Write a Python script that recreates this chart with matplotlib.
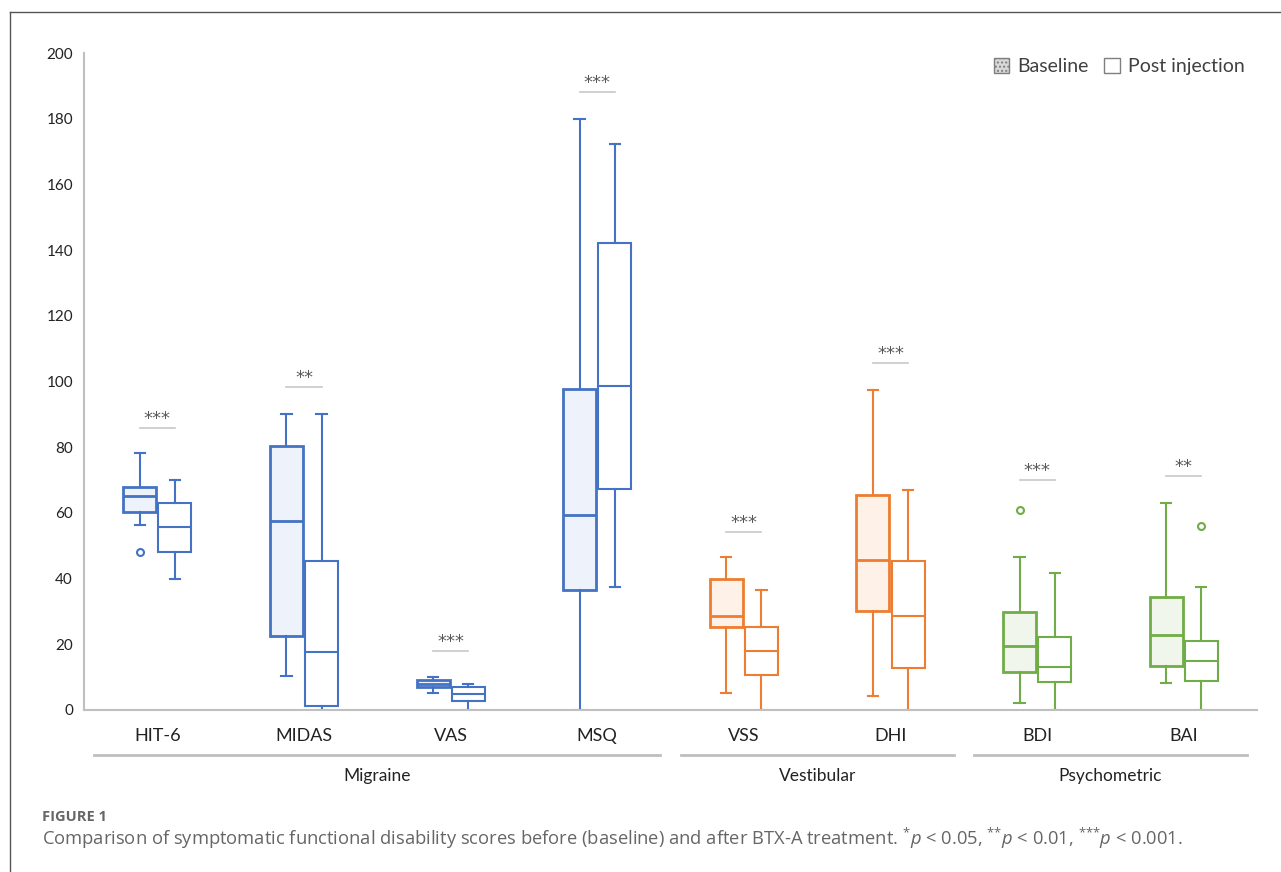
import matplotlib
matplotlib.use("Agg")
import matplotlib.pyplot as plt
from matplotlib.patches import Rectangle, Patch
from matplotlib.lines import Line2D

plt.rcParams["font.family"] = ["Lato", "DejaVu Sans"]
plt.rcParams["mathtext.fontset"] = "custom"
plt.rcParams["mathtext.rm"] = "Open Sans"
plt.rcParams["mathtext.it"] = "Open Sans:italic"

categories = ["HIT-6", "MIDAS", "VAS", "MSQ", "VSS", "DHI", "BDI", "BAI"]
groups = ["Migraine", "Migraine", "Migraine", "Migraine",
          "Vestibular", "Vestibular", "Psychometric", "Psychometric"]

# baseline box stats
base_lo = [56.2, 10.3, 5.1, 0.0, 5.3, 4.3, 2.0, 8.2]
base_q1 = [60.4, 22.6, 6.9, 36.5, 25.4, 30.1, 11.5, 13.4]
base_med = [65.0, 57.5, 7.8, 59.5, 28.5, 45.8, 19.4, 22.9]
base_q3 = [68.0, 80.3, 9.0, 97.7, 40.0, 65.5, 29.8, 34.4]
base_hi = [78.3, 90.2, 10.1, 180.0, 46.7, 97.4, 46.7, 62.9]
base_out = [[48.1], [], [], [], [], [], [60.9], []]

# post injection box stats
post_lo = [40.0, 0.0, 0.0, 37.4, 0.0, 0.0, 0.0, 0.0]
post_q1 = [48.2, 1.1, 2.6, 67.3, 10.5, 12.7, 8.5, 8.7]
post_med = [55.7, 17.7, 4.8, 98.7, 18.0, 28.6, 13.2, 14.8]
post_q3 = [63.1, 45.3, 6.9, 142.2, 25.2, 45.3, 22.1, 20.9]
post_hi = [70.1, 90.2, 7.9, 172.4, 36.5, 67.1, 41.8, 37.5]
post_out = [[], [], [], [], [], [], [], [55.9]]

sig_labels = ["***", "**", "***", "***", "***", "***", "***", "**"]
sig_y = [85.9, 98.2, 18.0, 188.0, 54.2, 105.5, 69.9, 71.1]

group_color = {"Migraine": "#4472C4", "Vestibular": "#ED7D31", "Psychometric": "#70AD47"}
group_tint = {"Migraine": "#eef2fa", "Vestibular": "#fdf1e8", "Psychometric": "#f0f6ec"}
group_dot = {"Migraine": "#c9d5ee", "Vestibular": "#f8d6bf", "Psychometric": "#d4e6c8"}

fig = plt.figure(figsize=(12.81, 8.72), dpi=100)
ax = fig.add_axes([0.0656, 0.1858, 0.9157, 0.7534])

off = 0.12
bw = 0.225
for i, cat in enumerate(categories):
    g = groups[i]
    c = group_color[g]
    stats = [
        dict(med=base_med[i], q1=base_q1[i], q3=base_q3[i], whislo=base_lo[i],
             whishi=base_hi[i], fliers=base_out[i]),
        dict(med=post_med[i], q1=post_q1[i], q3=post_q3[i], whislo=post_lo[i],
             whishi=post_hi[i], fliers=post_out[i]),
    ]
    for k, (st, dx) in enumerate(zip(stats, (-off, off))):
        lw = 2.0 if k == 0 else 1.5
        res = ax.bxp([st], positions=[i + dx], widths=bw, patch_artist=True,
                     capwidths=0.07,
                     boxprops=dict(facecolor=group_tint[g] if k == 0 else "white",
                                   edgecolor=c, linewidth=lw),
                     medianprops=dict(color=c, linewidth=lw),
                     whiskerprops=dict(color=c, linewidth=1.5),
                     capprops=dict(color=c, linewidth=1.5),
                     flierprops=dict(marker="o", markersize=5, markerfacecolor="white",
                                     markeredgecolor=c, markeredgewidth=1.5))
        if k == 0:
            ext = res["boxes"][0].get_path().get_extents()
            ax.add_patch(Rectangle((ext.x0, ext.y0), ext.width, ext.height,
                                   facecolor="none", edgecolor=group_dot[g],
                                   linewidth=0, hatch="....", zorder=1.5))
    # significance bar
    ax.plot([i - 0.12, i + 0.12], [sig_y[i], sig_y[i]], color="#c8c8c8", lw=1.2)
    ax.text(i, sig_y[i] + 1.2, sig_labels[i], ha="center", va="baseline",
            fontsize=13, color="#595959", family="DejaVu Sans")

ax.set_xlim(-0.5, 7.5)
ax.set_ylim(0, 200)
ax.set_yticks(range(0, 201, 20))
ax.set_xticks(range(len(categories)))
ax.set_xticklabels(categories, fontsize=13, color="#222222")
ax.tick_params(axis="both", length=0)
ax.tick_params(axis="y", pad=8, labelsize=11, labelcolor="#222222")
ax.tick_params(axis="x", pad=13)
for s in ["top", "right"]:
    ax.spines[s].set_visible(False)
for s in ["left", "bottom"]:
    ax.spines[s].set_color("#bfbfbf")
    ax.spines[s].set_linewidth(1.5)

# group brackets below the axis
group_names = ["Migraine", "Vestibular", "Psychometric"]
trans = ax.get_xaxis_transform()
for name in group_names:
    idx = [i for i, g in enumerate(groups) if g == name]
    x0, x1 = min(idx) - 0.5, max(idx) + 0.5
    ax.add_line(Line2D([x0 + 0.07, x1 - 0.07], [-0.068, -0.068], transform=trans,
                       color="#bfbfbf", lw=2, clip_on=False))
    ax.text((x0 + x1) / 2, -0.1, name, transform=trans, ha="center", va="center",
            fontsize=12.5, color="#222222")

handles = [Patch(facecolor="#d9d9d9", edgecolor="#7f7f7f", hatch="....", label="Baseline"),
           Patch(facecolor="white", edgecolor="#7f7f7f", label="Post injection")]
fig.legend(handles=handles, loc="center right", bbox_to_anchor=(0.985, 0.924),
           ncol=2, frameon=False, fontsize=14, handlelength=0.8, handleheight=0.8,
           handletextpad=0.4, columnspacing=0.8, labelcolor="#404040")

# outer frame
fig.add_artist(Line2D([10 / 1281, 10 / 1281], [0, 1 - 12 / 872], color="#555555", lw=1))
fig.add_artist(Line2D([10 / 1281, 1], [1 - 12 / 872, 1 - 12 / 872], color="#555555", lw=1))

fig.text(42 / 1281, 1 - 817 / 872, "FIGURE 1", fontsize=10.5, color="#666666",
         family="Open Sans", fontweight="bold", va="center")
fig.text(42 / 1281, 1 - 838 / 872,
         "Comparison of symptomatic functional disability scores before (baseline) and after "
         r"BTX-A treatment. $^{{*}}\it{p}$ < 0.05, $^{{*}{*}}\it{p}$ < 0.01, "
         r"$^{{*}{*}{*}}\it{p}$ < 0.001.",
         fontsize=13.25, color="#666666", family="Open Sans", va="center")

fig.savefig("out.png", dpi=100)
